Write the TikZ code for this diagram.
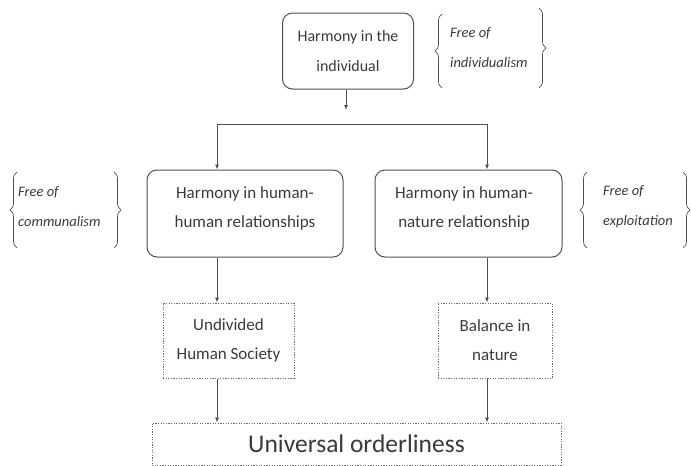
\documentclass[tikz,border=0pt]{standalone}
\usepackage{fontspec}
\setmainfont{Carlito}
\usetikzlibrary{decorations.pathreplacing,arrows.meta}
\definecolor{linegray}{HTML}{505050}
\definecolor{dashgray}{HTML}{6A6A6A}
\definecolor{txtgray}{HTML}{3A3A3A}
\begin{document}
\begin{tikzpicture}[x=1pt,y=-1pt,
  rbox/.style={draw=linegray, rounded corners=10pt, line width=1pt},
  btxt/.style={text=txtgray, align=center, font=\fontsize{17}{29}\selectfont},
  dbox/.style={draw=dashgray, dash pattern=on 1.2pt off 1.4pt, line width=1pt, text=txtgray, align=center, font=\fontsize{17}{29}\selectfont},
  note/.style={text=txtgray, align=left, font=\fontsize{14.5}{30}\selectfont\itshape, anchor=west, inner sep=0pt},
  arr/.style={-{Latex[length=5pt,width=4pt]}, draw=linegray, line width=0.8pt},
  conn/.style={draw=linegray, line width=0.8pt},
  cbrace/.style={draw=linegray, line width=0.7pt, decorate, decoration={brace, amplitude=7pt}}]
\useasboundingbox (0,0) rectangle (691,466);

% boxes
\node[rbox, btxt, minimum width=131pt, minimum height=76pt, font=\fontsize{16}{30}\selectfont] (hi) at (348,51) {Harmony in the\\individual};
\node[rbox, minimum width=196pt, minimum height=87pt] (hh) at (245,213.5) {};
\node[btxt] (hht) at (245,208) {Harmony in human-\\human relationships};
\node[rbox, minimum width=187pt, minimum height=87pt] (hn) at (468.5,213.5) {};
\node[btxt] (hnt) at (464,208) {Harmony in human-\\nature relationship};
\node[dbox, minimum width=131pt, minimum height=75pt] (uhs) at (228.5,340.5) {Undivided\\Human Society};
\node[dbox, minimum width=114pt, minimum height=75pt] (bn) at (495,340.5) {Balance in\\nature};
\node[dbox, minimum width=409pt, minimum height=42pt, font=\fontsize{25.5}{28}\selectfont] (uo) at (356.5,444) {Universal orderliness};

% notes
\node[note] (n1) at (450,48) {Free of\\individualism};
\node[note] (n2) at (18,207) {Free of\\communalism};
\node[note] (n3) at (603,207) {Free of\\exploitation};

% braces
\draw[cbrace] (442,88) -- (442,14);
\draw[cbrace] (539,8) -- (539,88);
\draw[cbrace] (17,248) -- (17,172);
\draw[cbrace] (114,172) -- (114,248);
\draw[cbrace] (587,248) -- (587,172);
\draw[cbrace] (683,172) -- (683,248);

% connectors
\coordinate (ta) at (346,110);
\coordinate (bl) at (217,124);
\coordinate (br) at (487,124);
\draw[arr] (hi.south -| ta) -- (ta);
\draw[conn] (bl) -- (br);
\draw[arr] (bl) -- (bl |- hh.north);
\draw[arr] (br) -- (br |- hn.north);
\draw[arr] (bl |- hh.south) -- (bl |- uhs.north);
\draw[arr] (br |- hn.south) -- (br |- bn.north);
\draw[arr] (bl |- uhs.south) -- (bl |- uo.north);
\draw[arr] (br |- bn.south) -- (br |- uo.north);
\end{tikzpicture}
\end{document}
